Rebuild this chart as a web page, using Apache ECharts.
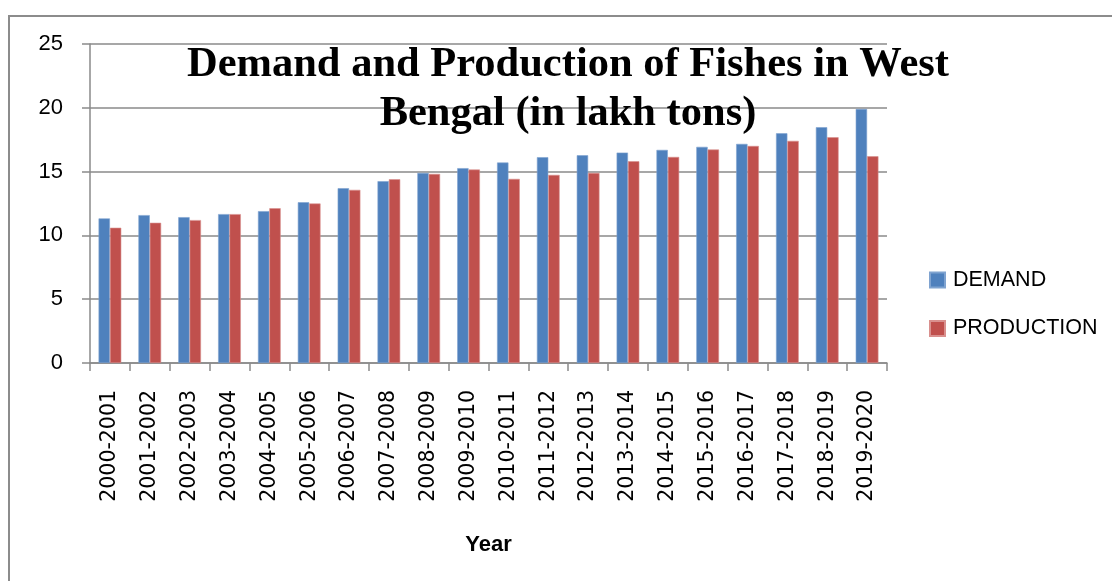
<!DOCTYPE html>
<html>
<head>
<meta charset="utf-8">
<title>Demand and Production of Fishes in West Bengal</title>
<script src="https://cdn.jsdelivr.net/npm/echarts@6/dist/echarts.min.js"></script>
<style>
  html, body { margin: 0; padding: 0; background: #ffffff; }
  #chart { width: 1112px; height: 581px; }
</style>
</head>
<body>
<div id="chart"></div>
<script>
// Financial years on the category axis
const years = [
  '2000-2001', '2001-2002', '2002-2003', '2003-2004', '2004-2005',
  '2005-2006', '2006-2007', '2007-2008', '2008-2009', '2009-2010',
  '2010-2011', '2011-2012', '2012-2013', '2013-2014', '2014-2015',
  '2015-2016', '2016-2017', '2017-2018', '2018-2019', '2019-2020'
];

// Fish demand, lakh tons
const demand = [
  11.33, 11.59, 11.43, 11.67, 11.90, 12.60, 13.70, 14.25, 14.90, 15.27,
  15.71, 16.13, 16.28, 16.49, 16.70, 16.94, 17.17, 18.00, 18.48, 19.91
];

// Fish production, lakh tons
const production = [
  10.60, 10.99, 11.20, 11.67, 12.13, 12.50, 13.57, 14.40, 14.82, 15.16,
  14.43, 14.74, 14.90, 15.81, 16.15, 16.73, 17.01, 17.41, 17.69, 16.20
];

// Value axis ticks
const yTicks = [0, 5, 10, 15, 20, 25];

const gridColor = '#8a8a8a';
const labelFont = 'Liberation Sans';

const chart = echarts.init(document.getElementById('chart'), null, { renderer: 'canvas' });

chart.setOption({
  backgroundColor: '#ffffff',
  animation: false,
  graphic: [{
    type: 'rect',
    silent: true,
    z: -10,
    shape: { x: 9, y: 16, width: 1200, height: 700 },
    style: { fill: 'none', stroke: '#8c8c8c', lineWidth: 2 }
  }],
  title: {
    text: 'Demand and Production of Fishes in West\nBengal (in lakh tons)',
    left: 568,
    top: 41,
    padding: 0,
    textAlign: 'center',
    textStyle: {
      fontFamily: 'Liberation Serif',
      fontWeight: 'bold',
      fontSize: 42.5,
      lineHeight: 49,
      color: '#000000'
    },
    z: 10
  },
  legend: {
    orient: 'vertical',
    left: 929,
    top: 269,
    padding: 0,
    itemWidth: 15,
    itemHeight: 15,
    itemGap: 26.5,
    icon: 'rect',
    textStyle: { fontFamily: labelFont, fontSize: 21.5, color: '#000000', padding: [0, 0, 0, 3] },
    data: ['DEMAND', 'PRODUCTION']
  },
  grid: {
    left: 90,
    right: 225,
    top: 44,
    bottom: 218,
    containLabel: false
  },
  xAxis: {
    type: 'category',
    data: years,
    name: 'Year',
    nameLocation: 'middle',
    nameGap: 171,
    nameTextStyle: { fontFamily: labelFont, fontWeight: 'bold', fontSize: 22, color: '#000000' },
    axisLine: { show: true, lineStyle: { color: gridColor, width: 1.5 } },
    axisTick: { show: true, alignWithLabel: false, length: 8, lineStyle: { color: gridColor, width: 1.5 } },
    axisLabel: {
      rotate: 90,
      margin: 27,
      fontFamily: 'DejaVu Sans',
      fontSize: 20.5,
      color: '#000000'
    },
    splitLine: { show: false }
  },
  yAxis: {
    type: 'value',
    min: yTicks[0],
    max: yTicks[yTicks.length - 1],
    interval: yTicks[1] - yTicks[0],
    axisLine: { show: true, lineStyle: { color: gridColor, width: 1.5 } },
    axisTick: { show: true, length: 8, lineStyle: { color: gridColor, width: 1.5 } },
    axisLabel: {
      margin: 27,
      fontFamily: labelFont,
      fontSize: 22,
      color: '#000000'
    },
    splitLine: { show: true, lineStyle: { color: gridColor, width: 1.5 } }
  },
  series: [
    {
      name: 'DEMAND',
      type: 'bar',
      data: demand,
      barGap: '0%',
      barCategoryGap: '43%',
      itemStyle: { color: '#4f81bd', borderColor: '#7fa3d0', borderWidth: 0.6 }
    },
    {
      name: 'PRODUCTION',
      type: 'bar',
      data: production,
      barGap: '0%',
      barCategoryGap: '43%',
      itemStyle: { color: '#c0504d', borderColor: '#d9908e', borderWidth: 0.6 }
    }
  ]
});
</script>
</body>
</html>
